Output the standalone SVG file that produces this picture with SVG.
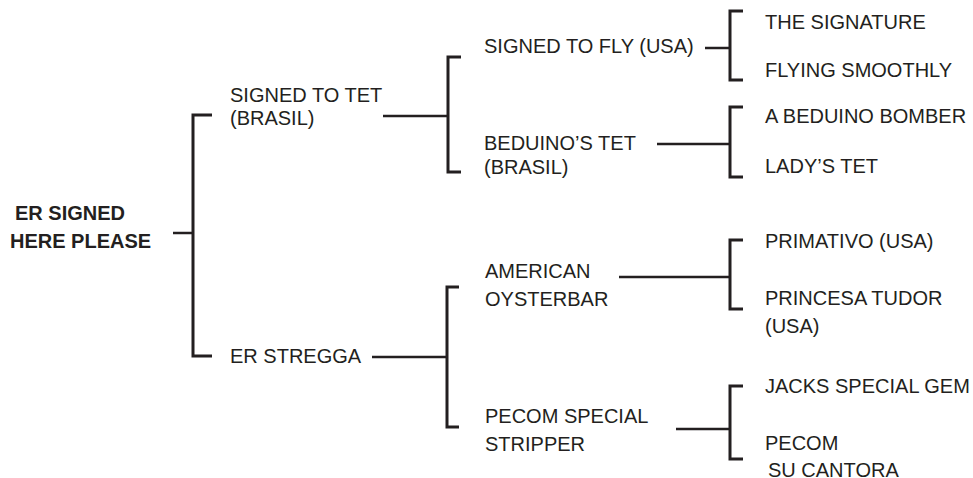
<svg xmlns="http://www.w3.org/2000/svg" width="973" height="478" viewBox="0 0 973 478">
<style>
text{font-family:"Liberation Sans",Arial,sans-serif;font-size:20px;fill:#231f20}
.b{font-weight:bold}
.br{fill:none;stroke:#231f20;stroke-width:3}
.st{stroke:#231f20;stroke-width:2.5}
</style>
<rect width="973" height="478" fill="#fff"/>
<g id="connectors">
<line class="st" x1="173" y1="233" x2="193" y2="233"/>
<path class="br" d="M212 115H193V356H212"/>
<line class="st" x1="383" y1="116" x2="448" y2="116"/>
<path class="br" d="M461 57H448V172H461"/>
<line class="st" x1="372" y1="357" x2="447" y2="357"/>
<path class="br" d="M459 287H447V427H459"/>
<line class="st" x1="705" y1="48" x2="730" y2="48"/>
<path class="br" d="M743 11H730V80H743"/>
<line class="st" x1="657" y1="144" x2="730" y2="144"/>
<path class="br" d="M743 107H730V177H743"/>
<line class="st" x1="619" y1="277" x2="730" y2="277"/>
<path class="br" d="M743 240H730V309H743"/>
<line class="st" x1="676" y1="429" x2="730" y2="429"/>
<path class="br" d="M743 386H730V459H743"/>
</g>
<g id="root"><text class="b" x="15" y="220">ER SIGNED</text><text class="b" x="10" y="248">HERE PLEASE</text></g>
<g id="n-signed-to-tet"><text x="230" y="102">SIGNED TO TET</text><text x="230" y="125">(BRASIL)</text></g>
<g id="n-er-stregga"><text x="230" y="363">ER STREGGA</text></g>
<g id="n-signed-to-fly"><text x="484" y="53">SIGNED TO FLY (USA)</text></g>
<g id="n-beduinos-tet"><text x="484" y="150">BEDUINO’S TET</text><text x="484" y="174">(BRASIL)</text></g>
<g id="n-american-oysterbar"><text x="485" y="278">AMERICAN</text><text x="485" y="306">OYSTERBAR</text></g>
<g id="n-pecom-special-stripper"><text x="485" y="423">PECOM SPECIAL</text><text x="485" y="451">STRIPPER</text></g>
<g id="n-the-signature"><text x="765" y="29">THE SIGNATURE</text></g>
<g id="n-flying-smoothly"><text x="765" y="77">FLYING SMOOTHLY</text></g>
<g id="n-a-beduino-bomber"><text x="765" y="123">A BEDUINO BOMBER</text></g>
<g id="n-ladys-tet"><text x="765" y="173">LADY’S TET</text></g>
<g id="n-primativo"><text x="765" y="248">PRIMATIVO (USA)</text></g>
<g id="n-princesa-tudor"><text x="765" y="305">PRINCESA TUDOR</text><text x="765" y="333">(USA)</text></g>
<g id="n-jacks-special-gem"><text x="765" y="393">JACKS SPECIAL GEM</text></g>
<g id="n-pecom-su-cantora"><text x="765" y="450">PECOM</text><text x="768" y="477">SU CANTORA</text></g>
</svg>
